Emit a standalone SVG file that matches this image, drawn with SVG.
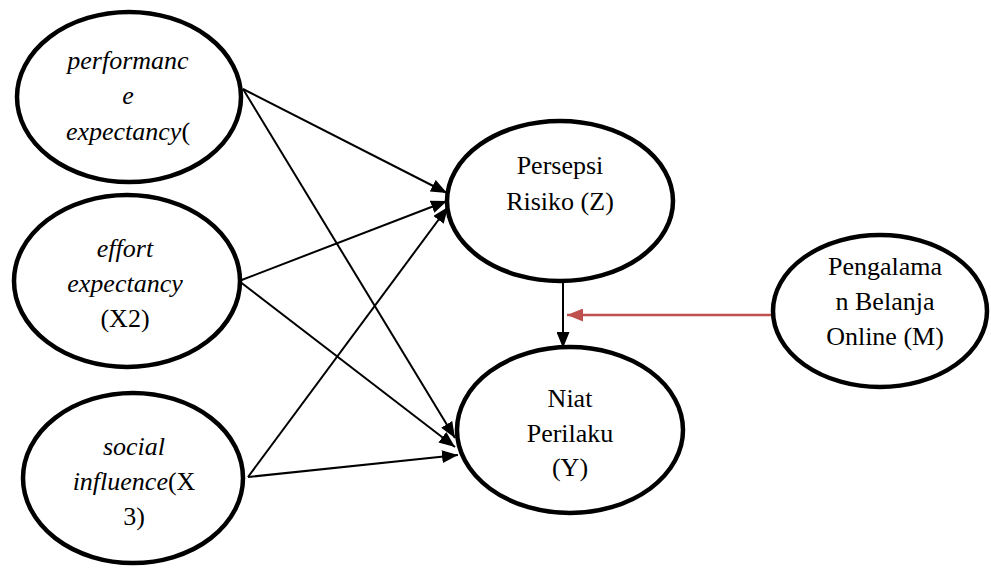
<svg xmlns="http://www.w3.org/2000/svg" width="991" height="568" viewBox="0 0 991 568">
<style>
.node ellipse{fill:#fff;stroke:#000;stroke-width:4.5}
.node text{font-size:26px;fill:#000;text-anchor:middle}
.it{font-style:italic}
.conn line{stroke:#000;stroke-width:2;fill:none}
.conn line.red{stroke:#C0504D;stroke-width:2.5}
</style>
<defs>
<marker id="ah" markerUnits="userSpaceOnUse" markerWidth="16" markerHeight="13" refX="16" refY="6.5" orient="auto">
<path d="M0,0 L16,6.5 L0,13 z" fill="#000"/>
</marker>
<marker id="ahr" markerUnits="userSpaceOnUse" markerWidth="16" markerHeight="13" refX="16" refY="6.5" orient="auto">
<path d="M0,0 L16,6.5 L0,13 z" fill="#C0504D"/>
</marker>
</defs>
<rect width="991" height="568" fill="#fff"/>
<g class="conn">
<line x1="243" y1="89" x2="447" y2="193" marker-end="url(#ah)"/>
<line x1="243" y1="89" x2="455" y2="438" marker-end="url(#ah)"/>
<line x1="239" y1="281" x2="447" y2="201" marker-end="url(#ah)"/>
<line x1="239" y1="281" x2="455" y2="447" marker-end="url(#ah)"/>
<line x1="248" y1="477" x2="448" y2="207" marker-end="url(#ah)"/>
<line x1="248" y1="477" x2="458" y2="455" marker-end="url(#ah)"/>
<line x1="563" y1="282" x2="563" y2="348" marker-end="url(#ah)"/>
<line class="red" x1="775" y1="315" x2="567" y2="315" marker-end="url(#ahr)"/>
</g>
<g font-family="'Liberation Serif', 'DejaVu Serif', serif">
<g id="x1" class="node">
<ellipse cx="129" cy="97" rx="112" ry="85"/>
<text x="128" y="69" class="it">performanc</text>
<text x="128" y="104" class="it">e</text>
<text x="128" y="140"><tspan class="it">expectancy</tspan>(</text>
</g>
<g id="x2" class="node">
<ellipse cx="127" cy="281" rx="113" ry="86"/>
<text x="125" y="257" class="it">effort</text>
<text x="125" y="292" class="it">expectancy</text>
<text x="125" y="327">(X2)</text>
</g>
<g id="x3" class="node">
<ellipse cx="133" cy="478" rx="110" ry="85"/>
<text x="134" y="455" class="it">social</text>
<text x="134" y="490"><tspan class="it">influence</tspan>(X</text>
<text x="134" y="525">3)</text>
</g>
<g id="z" class="node">
<ellipse cx="560" cy="201" rx="113" ry="80"/>
<text x="560" y="174">Persepsi</text>
<text x="560" y="210">Risiko (Z)</text>
</g>
<g id="y" class="node">
<ellipse cx="570" cy="430" rx="113" ry="83"/>
<text x="570" y="407">Niat</text>
<text x="570" y="442">Perilaku</text>
<text x="570" y="476">(Y)</text>
</g>
<g id="m" class="node">
<ellipse cx="880" cy="311" rx="107" ry="76"/>
<text x="885" y="275">Pengalama</text>
<text x="885" y="310">n Belanja</text>
<text x="885" y="345">Online (M)</text>
</g>
</g>
</svg>
